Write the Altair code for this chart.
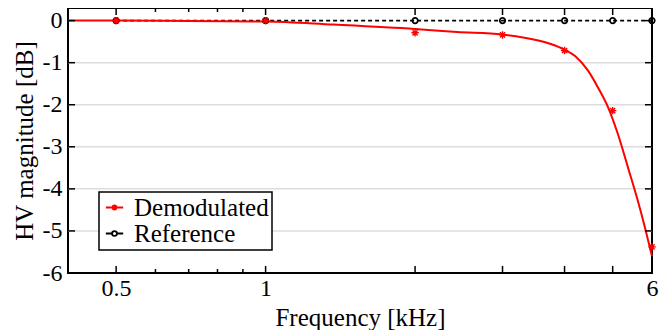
import altair as alt
import pandas as pd

# ---- data ----
meas_freq = [0.5, 1, 2, 3, 4, 5, 6]                       # kHz
demod_db = [0.0, 0.0, -0.29, -0.34, -0.71, -2.14, -5.38]    # asterisks
ref_db = [0.0, 0.0, 0.0, 0.0, 0.0, 0.0, 0.0]                # open circles

fit_freq = [0.4, 0.5, 0.7, 1.0, 1.37, 2.0, 2.43, 3.0, 3.3, 3.74, 4.0, 4.2,
            4.46, 4.67, 4.89, 5.12, 5.37, 5.62, 5.81, 6.0]
fit_db = [0.0, 0.0, -0.01, -0.02, -0.095, -0.20, -0.27, -0.33, -0.40, -0.55,
          -0.69, -0.84, -1.19, -1.59, -2.05, -2.69, -3.50, -4.29, -4.93, -5.6]

series_names = ["Demodulated", "Reference"]
x_label_vals = [0.5, 1, 6]
x_major = [0.5, 1, 2, 3, 4, 5, 6]
x_minor = [0.6, 0.7, 0.8, 0.9]
y_ticks = [0, -1, -2, -3, -4, -5, -6]
y_grid = [-1, -2, -3, -4, -5]

W, H = 584, 265
FONT = "Liberation Serif, Times New Roman, serif"

meas = pd.DataFrame({"f": meas_freq, "demod": demod_db, "ref": ref_db})
fit = pd.DataFrame({"f": fit_freq, "db": fit_db})

xscale = alt.Scale(type="log", domain=[0.4, 6], nice=False)
yscale = alt.Scale(domain=[-6, 0.3], nice=False, zero=False)

common = dict(labelFont=FONT, labelFontSize=24, labelColor="black",
              titleFont=FONT, titleFontSize=25, titleColor="black",
              titleFontWeight="normal", grid=False, ticks=False, tickSize=0,
              domain=False, labelExpr="datum.value + ''")
xaxis = alt.Axis(values=x_label_vals, title="Frequency [kHz]", labelFlush=False,
                 labelOverlap=False, labelPadding=3, titleY=52,
                 titleBaseline="alphabetic", **common)
yaxis = alt.Axis(values=y_ticks, title="HV magnitude [dB]", labelPadding=6,
                 titlePadding=5, **common)

X = lambda fld: alt.X(fld, scale=xscale, axis=xaxis)
Y = lambda fld: alt.Y(fld, scale=yscale, axis=yaxis)

grid = alt.Chart(pd.DataFrame({"v": y_grid})).mark_rule(
    color="#dddddd", strokeWidth=1.5).encode(y=Y("v:Q"), x=alt.value(0), x2=alt.value(W))

ref_line = alt.Chart(meas).mark_line(color="black", strokeWidth=1.8,
                                     strokeDash=[4, 3]).encode(x=X("f:Q"), y=Y("ref:Q"))
fit_line = alt.Chart(fit).mark_line(color="red", strokeWidth=2,
                                    interpolate="monotone").encode(x=X("f:Q"), y=Y("db:Q"))
ref_pts = alt.Chart(meas).mark_point(shape="circle", size=30, filled=False, color="black",
                                     strokeWidth=1.7, opacity=1).encode(x=X("f:Q"), y=Y("ref:Q"))
ASTER = "M-1,0L1,0M0,-1L0,1M-0.7,-0.7L0.7,0.7M-0.7,0.7L0.7,-0.7"
demod_pts = alt.Chart(meas).mark_point(shape=ASTER, size=55, filled=False, color="red",
                                       strokeWidth=1.4, opacity=1).encode(x=X("f:Q"), y=Y("demod:Q"))

ytk = pd.DataFrame({"v": y_ticks})
left_t = alt.Chart(ytk).mark_rule(color="black", strokeWidth=1.5).encode(
    y=Y("v:Q"), x=alt.value(0), x2=alt.value(7))
right_t = alt.Chart(ytk).mark_rule(color="black", strokeWidth=1.5).encode(
    y=Y("v:Q"), x=alt.value(W - 7), x2=alt.value(W))
xmj = pd.DataFrame({"v": x_major})
xmn = pd.DataFrame({"v": x_minor})
bot_mj = alt.Chart(xmj).mark_rule(color="black", strokeWidth=1.5).encode(
    x=X("v:Q"), y=alt.value(H), y2=alt.value(H - 7))
top_mj = alt.Chart(xmj).mark_rule(color="black", strokeWidth=1.5).encode(
    x=X("v:Q"), y=alt.value(0), y2=alt.value(7))
bot_mn = alt.Chart(xmn).mark_rule(color="black", strokeWidth=1.5).encode(
    x=X("v:Q"), y=alt.value(H), y2=alt.value(H - 4))
top_mn = alt.Chart(xmn).mark_rule(color="black", strokeWidth=1.5).encode(
    x=X("v:Q"), y=alt.value(0), y2=alt.value(4))

LEG_DEMOD = ("M-1,0L1,0M0,-0.35L0,0.35M-0.35,0L0.35,0"
             "M-0.25,-0.25L0.25,0.25M-0.25,0.25L0.25,-0.25")
LEG_REF = ("M-1,0L-0.32,0M0.32,0L1,0"
           "M0.28,0A0.28,0.28 0 1,1 -0.28,0A0.28,0.28 0 1,1 0.28,0")
legend = alt.Legend(title=None, orient="none", legendX=31, legendY=184,
                    labelFont=FONT, labelFontSize=25, labelColor="black",
                    symbolSize=300, symbolStrokeWidth=1.8, symbolOpacity=1,
                    labelOffset=7, padding=3, rowPadding=0,
                    strokeColor="black", fillColor="white")
leg_layer = alt.Chart(pd.DataFrame({"series": series_names})).mark_point(
    opacity=0, filled=False).encode(
    color=alt.Color("series:N", scale=alt.Scale(domain=series_names, range=["red", "black"]),
                    legend=legend),
    shape=alt.Shape("series:N", scale=alt.Scale(domain=series_names, range=[LEG_DEMOD, LEG_REF]),
                    legend=legend),
)

chart = alt.layer(
    grid, ref_line, fit_line, ref_pts, demod_pts,
    left_t, right_t, bot_mj, top_mj, bot_mn, top_mn, leg_layer
).properties(
    width=W, height=H,
    autosize=alt.AutoSizeParams(type="none"),
    padding={"left": 60, "top": 0, "right": 11, "bottom": 57},
).configure_view(
    stroke="black", strokeWidth=2
).configure_axis(
    labelFont=FONT, labelFontSize=24, labelColor="black",
    titleFont=FONT, titleFontSize=25, titleColor="black", titleFontWeight="normal"
).configure_legend(
    strokeWidth=1.5
)

chart.save("out.html", embed_options={"renderer": "svg", "actions": False})
